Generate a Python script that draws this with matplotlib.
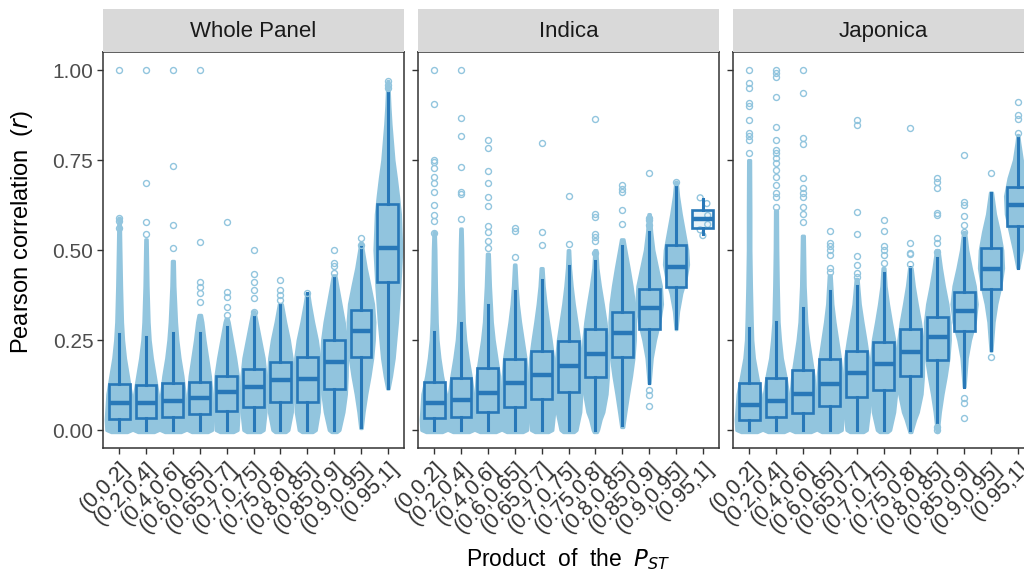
import matplotlib
matplotlib.use("Agg")
import matplotlib.pyplot as plt

plt.rcParams['font.family'] = ['Liberation Sans', 'DejaVu Sans']

categories = ["(0,0.2]", "(0.2,0.4]", "(0.4,0.6]", "(0.6,0.65]", "(0.65,0.7]",
              "(0.7,0.75]", "(0.75,0.8]", "(0.8,0.85]", "(0.85,0.9]", "(0.9,0.95]",
              "(0.95,1]"]
panels = ["Whole Panel", "Indica", "Japonica"]

# box statistics: whisker low, q1, median, q3, whisker high
whole_lo = [0, 0, 0, 0, 0, 0, 0, 0, 0, 0.009, 0.116]
whole_q1 = [0.031, 0.032, 0.036, 0.044, 0.053, 0.063, 0.077, 0.077, 0.113, 0.204, 0.412]
whole_med = [0.074, 0.074, 0.081, 0.090, 0.106, 0.119, 0.139, 0.143, 0.190, 0.274, 0.506]
whole_q3 = [0.129, 0.126, 0.131, 0.134, 0.151, 0.169, 0.190, 0.202, 0.251, 0.333, 0.627]
whole_hi = [0.268, 0.259, 0.269, 0.269, 0.287, 0.315, 0.350, 0.380, 0.426, 0.507, 0.940]
whole_fliers = [[1.0, 0.59, 0.58, 0.56], [1.0, 0.685, 0.577, 0.545],
                [1.0, 0.732, 0.57, 0.506], [1.0, 0.521, 0.412, 0.396, 0.38, 0.356],
                [0.577, 0.384, 0.37, 0.341, 0.32], [0.5, 0.433, 0.41, 0.39, 0.366, 0.327],
                [0.417, 0.389, 0.375, 0.361], [0.38], [0.5, 0.463, 0.456, 0.437],
                [0.532, 0.515], [0.969, 0.958, 0.949]]

indica_lo = [0, 0, 0, 0, 0, 0, 0, 0.015, 0.131, 0.282, 0.544]
indica_q1 = [0.032, 0.037, 0.049, 0.065, 0.086, 0.105, 0.146, 0.202, 0.281, 0.396, 0.560]
indica_med = [0.076, 0.083, 0.102, 0.131, 0.153, 0.179, 0.211, 0.270, 0.338, 0.452, 0.586]
indica_q3 = [0.132, 0.144, 0.171, 0.196, 0.219, 0.248, 0.280, 0.329, 0.393, 0.514, 0.611]
indica_hi = [0.273, 0.296, 0.347, 0.387, 0.417, 0.456, 0.470, 0.511, 0.551, 0.676, 0.641]
indica_fliers = [[1.0, 0.905, 0.75, 0.745, 0.727, 0.704, 0.685, 0.662, 0.625, 0.597, 0.58, 0.546],
                 [1.0, 0.866, 0.818, 0.731, 0.662, 0.656, 0.585],
                 [0.806, 0.782, 0.719, 0.685, 0.646, 0.622, 0.567, 0.55, 0.526, 0.505],
                 [0.56, 0.552, 0.48], [0.798, 0.55, 0.515], [0.65, 0.516],
                 [0.864, 0.6, 0.593, 0.544, 0.537, 0.524, 0.491],
                 [0.68, 0.67, 0.66, 0.61, 0.572],
                 [0.713, 0.59, 0.584, 0.569, 0.111, 0.096, 0.067],
                 [0.69], []]
# the last Indica class only has a handful of values, drawn one by one
indica_last_points = [0.645, 0.629, 0.596, 0.571, 0.556, 0.54]

japonica_lo = [0, 0, 0, 0, 0, 0, 0, 0.019, 0.120, 0.222, 0.449]
japonica_q1 = [0.028, 0.037, 0.048, 0.067, 0.091, 0.111, 0.150, 0.194, 0.276, 0.391, 0.568]
japonica_med = [0.069, 0.081, 0.100, 0.127, 0.159, 0.182, 0.216, 0.257, 0.331, 0.446, 0.625]
japonica_q3 = [0.131, 0.144, 0.167, 0.196, 0.220, 0.245, 0.280, 0.315, 0.384, 0.506, 0.676]
japonica_hi = [0.282, 0.301, 0.338, 0.387, 0.400, 0.437, 0.454, 0.477, 0.532, 0.659, 0.813]
japonica_fliers = [[1.0, 0.963, 0.95, 0.909, 0.90, 0.861, 0.824, 0.817, 0.806, 0.769],
                   [1.0, 0.991, 0.981, 0.926, 0.843, 0.806, 0.778, 0.769, 0.755, 0.741,
                    0.722, 0.704, 0.68, 0.657, 0.648, 0.62],
                   [1.0, 0.935, 0.81, 0.794, 0.699, 0.671, 0.657, 0.648, 0.62, 0.6, 0.579],
                   [0.552, 0.519, 0.51, 0.5, 0.486, 0.45, 0.44],
                   [0.861, 0.847, 0.605, 0.544, 0.483, 0.458, 0.437, 0.426],
                   [0.583, 0.554, 0.51, 0.5, 0.486, 0.463],
                   [0.84, 0.52, 0.493, 0.488, 0.461],
                   [0.699, 0.69, 0.673, 0.602, 0.597, 0.532, 0.519, 0.495, 0.009, 0.0],
                   [0.764, 0.634, 0.625, 0.595, 0.57, 0.551, 0.088, 0.074, 0.032],
                   [0.713, 0.202], [0.91, 0.875, 0.863, 0.824]]

# outline of the dense point clouds: (r, half width in category units)
whole_cloud = [
    [(-0.006, 0.3), (0.0, 0.48), (0.03, 0.5), (0.1, 0.44), (0.15, 0.33), (0.2, 0.22), (0.25, 0.15), (0.3, 0.11), (0.4, 0.075), (0.5, 0.05), (0.59, 0.03)],
    [(-0.006, 0.3), (0.0, 0.48), (0.03, 0.5), (0.1, 0.44), (0.15, 0.33), (0.2, 0.22), (0.25, 0.14), (0.3, 0.1), (0.4, 0.06), (0.53, 0.03)],
    [(-0.006, 0.3), (0.0, 0.48), (0.03, 0.5), (0.1, 0.44), (0.15, 0.36), (0.2, 0.25), (0.25, 0.17), (0.3, 0.12), (0.4, 0.06), (0.47, 0.04)],
    [(-0.006, 0.3), (0.0, 0.46), (0.03, 0.48), (0.1, 0.44), (0.15, 0.38), (0.2, 0.28), (0.25, 0.18), (0.3, 0.1), (0.32, 0.05)],
    [(-0.006, 0.25), (0.0, 0.41), (0.05, 0.45), (0.1, 0.45), (0.15, 0.42), (0.2, 0.32), (0.25, 0.2), (0.3, 0.08), (0.31, 0.04)],
    [(-0.006, 0.25), (0.0, 0.38), (0.05, 0.45), (0.1, 0.47), (0.15, 0.45), (0.2, 0.38), (0.25, 0.25), (0.3, 0.12), (0.33, 0.04)],
    [(-0.006, 0.2), (0.0, 0.3), (0.05, 0.43), (0.1, 0.46), (0.15, 0.46), (0.2, 0.42), (0.25, 0.32), (0.3, 0.18), (0.35, 0.06)],
    [(-0.006, 0.2), (0.0, 0.32), (0.05, 0.43), (0.1, 0.46), (0.15, 0.47), (0.2, 0.45), (0.25, 0.36), (0.3, 0.22), (0.35, 0.1), (0.38, 0.04)],
    [(-0.006, 0.1), (0.0, 0.2), (0.05, 0.35), (0.1, 0.44), (0.15, 0.47), (0.2, 0.48), (0.25, 0.45), (0.3, 0.36), (0.35, 0.24), (0.4, 0.12), (0.43, 0.05)],
    [(0.005, 0.03), (0.05, 0.1), (0.1, 0.2), (0.15, 0.32), (0.2, 0.42), (0.25, 0.48), (0.3, 0.5), (0.35, 0.45), (0.4, 0.32), (0.45, 0.18), (0.5, 0.07), (0.52, 0.03)],
    [(0.115, 0.03), (0.15, 0.12), (0.2, 0.22), (0.3, 0.34), (0.4, 0.43), (0.5, 0.5), (0.6, 0.45), (0.65, 0.38), (0.7, 0.3), (0.75, 0.21), (0.85, 0.1), (0.9, 0.06), (0.97, 0.02)],
]
indica_cloud = [
    [(-0.006, 0.3), (0.0, 0.48), (0.03, 0.5), (0.1, 0.44), (0.15, 0.3), (0.2, 0.2), (0.25, 0.13), (0.3, 0.1), (0.4, 0.07), (0.5, 0.05), (0.55, 0.03)],
    [(-0.006, 0.3), (0.0, 0.48), (0.03, 0.5), (0.1, 0.45), (0.15, 0.36), (0.2, 0.25), (0.25, 0.16), (0.3, 0.11), (0.4, 0.07), (0.5, 0.05), (0.56, 0.03)],
    [(-0.006, 0.3), (0.0, 0.48), (0.03, 0.5), (0.1, 0.46), (0.15, 0.42), (0.2, 0.32), (0.25, 0.22), (0.3, 0.15), (0.4, 0.08), (0.49, 0.04)],
    [(-0.006, 0.3), (0.0, 0.46), (0.03, 0.48), (0.1, 0.47), (0.15, 0.45), (0.2, 0.4), (0.25, 0.3), (0.3, 0.2), (0.35, 0.12), (0.4, 0.07), (0.46, 0.03)],
    [(-0.006, 0.25), (0.0, 0.4), (0.05, 0.47), (0.1, 0.48), (0.15, 0.47), (0.2, 0.43), (0.25, 0.34), (0.3, 0.24), (0.35, 0.15), (0.4, 0.08), (0.45, 0.04)],
    [(-0.006, 0.2), (0.0, 0.3), (0.05, 0.44), (0.1, 0.48), (0.15, 0.48), (0.2, 0.46), (0.25, 0.4), (0.3, 0.3), (0.35, 0.2), (0.4, 0.12), (0.45, 0.06), (0.5, 0.03)],
    [(-0.006, 0.06), (0.0, 0.1), (0.03, 0.2), (0.05, 0.3), (0.1, 0.42), (0.15, 0.47), (0.2, 0.48), (0.25, 0.45), (0.3, 0.38), (0.35, 0.28), (0.4, 0.17), (0.45, 0.08), (0.5, 0.04)],
    [(0.008, 0.04), (0.05, 0.12), (0.1, 0.22), (0.15, 0.33), (0.2, 0.42), (0.25, 0.47), (0.3, 0.48), (0.35, 0.44), (0.4, 0.35), (0.45, 0.24), (0.5, 0.12), (0.53, 0.05)],
    [(0.13, 0.02), (0.2, 0.1), (0.25, 0.22), (0.3, 0.38), (0.35, 0.48), (0.4, 0.44), (0.45, 0.3), (0.5, 0.16), (0.55, 0.08), (0.6, 0.03)],
    [(0.28, 0.02), (0.33, 0.08), (0.38, 0.2), (0.42, 0.36), (0.46, 0.45), (0.5, 0.42), (0.55, 0.3), (0.6, 0.18), (0.65, 0.08), (0.69, 0.03)],
    [],
]
japonica_cloud = [
    [(-0.006, 0.3), (0.0, 0.48), (0.03, 0.5), (0.1, 0.43), (0.15, 0.3), (0.2, 0.18), (0.25, 0.12), (0.3, 0.1), (0.4, 0.07), (0.5, 0.05), (0.6, 0.05), (0.75, 0.04)],
    [(-0.006, 0.3), (0.0, 0.48), (0.03, 0.5), (0.1, 0.45), (0.15, 0.35), (0.2, 0.22), (0.25, 0.15), (0.3, 0.1), (0.4, 0.07), (0.5, 0.05), (0.61, 0.04)],
    [(-0.006, 0.3), (0.0, 0.48), (0.03, 0.5), (0.1, 0.46), (0.15, 0.4), (0.2, 0.3), (0.25, 0.2), (0.3, 0.13), (0.4, 0.07), (0.54, 0.04)],
    [(-0.006, 0.3), (0.0, 0.45), (0.03, 0.47), (0.1, 0.47), (0.15, 0.45), (0.2, 0.38), (0.25, 0.28), (0.3, 0.18), (0.35, 0.1), (0.43, 0.04)],
    [(-0.006, 0.25), (0.0, 0.38), (0.05, 0.46), (0.1, 0.48), (0.15, 0.47), (0.2, 0.43), (0.25, 0.33), (0.3, 0.22), (0.35, 0.12), (0.42, 0.04)],
    [(-0.006, 0.15), (0.0, 0.25), (0.05, 0.4), (0.1, 0.47), (0.15, 0.48), (0.2, 0.46), (0.25, 0.4), (0.3, 0.28), (0.35, 0.17), (0.4, 0.08), (0.45, 0.04)],
    [(-0.006, 0.04), (0.0, 0.06), (0.03, 0.18), (0.05, 0.28), (0.1, 0.42), (0.15, 0.47), (0.2, 0.48), (0.25, 0.45), (0.3, 0.36), (0.35, 0.24), (0.4, 0.13), (0.45, 0.05)],
    [(-0.006, 0.02), (0.05, 0.1), (0.1, 0.2), (0.15, 0.32), (0.2, 0.42), (0.25, 0.47), (0.3, 0.46), (0.35, 0.38), (0.4, 0.25), (0.45, 0.14), (0.5, 0.05)],
    [(0.12, 0.02), (0.2, 0.1), (0.25, 0.22), (0.3, 0.4), (0.35, 0.47), (0.4, 0.4), (0.45, 0.25), (0.5, 0.12), (0.55, 0.04)],
    [(0.22, 0.02), (0.3, 0.1), (0.35, 0.2), (0.4, 0.35), (0.45, 0.45), (0.5, 0.42), (0.55, 0.3), (0.6, 0.15), (0.66, 0.04)],
    [(0.45, 0.02), (0.5, 0.15), (0.55, 0.3), (0.6, 0.45), (0.65, 0.48), (0.7, 0.35), (0.75, 0.15), (0.8, 0.05), (0.82, 0.02)],
]

light = '#92C5DE'
dark = '#2878B8'

panel_data = [
    (whole_lo, whole_q1, whole_med, whole_q3, whole_hi, whole_fliers, whole_cloud),
    (indica_lo, indica_q1, indica_med, indica_q3, indica_hi, indica_fliers, indica_cloud),
    (japonica_lo, japonica_q1, japonica_med, japonica_q3, japonica_hi, japonica_fliers, japonica_cloud),
]

W, H = 1024, 572
fig = plt.figure(figsize=(W / 100, H / 100), dpi=100)

lefts = [103, 418, 733]
pw = 301
ptop, pbot = 52, 448
strip_top = 9

positions = list(range(1, len(categories) + 1))

for p, (name, data) in enumerate(zip(panels, panel_data)):
    lo, q1, med, q3, hi, fliers, cloud = data
    ax = fig.add_axes([lefts[p] / W, (H - pbot) / H, pw / W, (pbot - ptop) / H])

    # point clouds
    for i, prof in enumerate(cloud):
        if not prof:
            continue
        ys = [a for a, b in prof]
        hw = [b for a, b in prof]
        x0 = positions[i]
        ax.fill_betweenx(ys, [x0 - w for w in hw], [x0 + w for w in hw],
                         color=light, lw=2.2, ec=light, joinstyle='round', zorder=1)

    if name == "Indica":
        x0 = positions[-1]
        offs = [-0.1, 0.15, 0.18, 0.18, -0.1, 0.0]
        ax.scatter([x0 + o for o in offs], indica_last_points, s=18, facecolors='none',
                   edgecolors=light, linewidths=1.0, zorder=2)

    stats = []
    for i in range(len(categories)):
        stats.append(dict(whislo=lo[i], q1=q1[i], med=med[i], q3=q3[i],
                          whishi=hi[i], fliers=fliers[i]))
    ax.bxp(stats, positions=positions, widths=0.78, patch_artist=True,
           showcaps=False, manage_ticks=False,
           boxprops=dict(facecolor=(0.57, 0.77, 0.87, 0.2), edgecolor=dark, linewidth=1.9),
           medianprops=dict(color=dark, linewidth=3.2, solid_capstyle='butt'),
           whiskerprops=dict(color=dark, linewidth=2.2),
           flierprops=dict(marker='o', markerfacecolor='none', markeredgecolor=light,
                           markersize=4.3, markeredgewidth=1.0),
           zorder=3)

    ax.set_xlim(0.4, len(categories) + 0.6)
    ax.set_ylim(-0.05, 1.05)
    ax.set_xticks(positions)
    ax.set_xticklabels(categories, rotation=45, ha='right', va='top',
                       rotation_mode='anchor', fontsize=15.5, color='#333333')
    ax.set_yticks([0, 0.25, 0.5, 0.75, 1.0])
    if p == 0:
        ax.set_yticklabels(['0.00', '0.25', '0.50', '0.75', '1.00'], fontsize=15,
                           color='#4D4D4D')
    else:
        ax.set_yticklabels([])
    ax.tick_params(length=4, width=1, color='#333333', pad=3)
    for s in ax.spines.values():
        s.set_color('#333333')
        s.set_linewidth(1.1)

    sax = fig.add_axes([lefts[p] / W, (H - ptop) / H, pw / W, (ptop - strip_top) / H])
    sax.set_facecolor('#D9D9D9')
    sax.set_xticks([])
    sax.set_yticks([])
    for s in sax.spines.values():
        s.set_visible(False)
    sax.text(0.5, 0.48, name, ha='center', va='center', fontsize=16, color='#1A1A1A',
             transform=sax.transAxes)

fig.text(568 / W, 1 - 559 / H, 'Product  of  the  $P_{ST}$', ha='center', va='center',
         fontsize=16.5)
fig.text(22 / W, 1 - 232 / H, 'Pearson correlation  ($r$)', ha='center', va='center',
         rotation=90, fontsize=17)

fig.savefig('out.png', dpi=100)
